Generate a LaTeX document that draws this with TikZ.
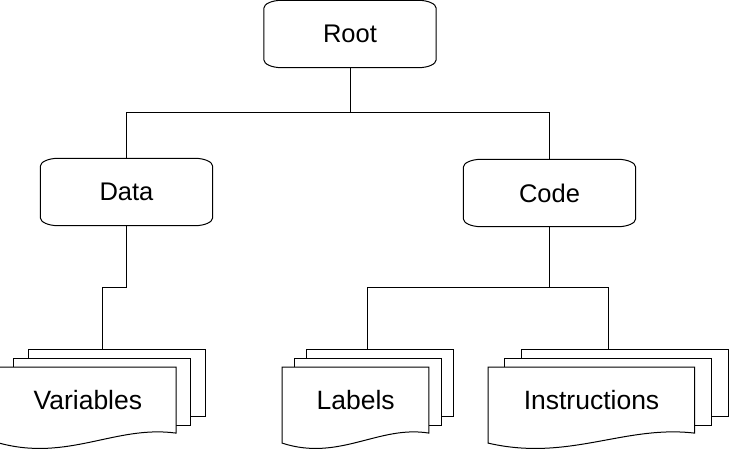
\documentclass[tikz,border=0pt]{standalone}
\usepackage{fontspec}
\setmainfont{Liberation Sans}
\usetikzlibrary{calc}
\tikzset{
  ln/.style={line width=1pt, draw=black, line join=miter},
  termbox/.style={minimum width=172pt, minimum height=67pt, inner sep=0pt, font=\fontsize{25.5}{30}\selectfont},
  docgroup/.style={minimum height=100pt, inner sep=0pt},
  doctext/.style={inner sep=0pt, font=\fontsize{26.5}{30}\selectfont},
  conn/.style={line width=1pt, draw=black}
}
\newcommand{\roundbox}[1]{%
  \draw[ln] ($(#1.north west)+(0,8)$) arc[start angle=180,end angle=270,x radius=18,y radius=8]
    -- ($(#1.north east)+(-18,0)$) arc[start angle=270,end angle=360,x radius=18,y radius=8]
    -- ($(#1.south east)+(0,-8)$) arc[start angle=0,end angle=90,x radius=18,y radius=8]
    -- ($(#1.south west)+(18,0)$) arc[start angle=90,end angle=180,x radius=18,y radius=8]
    -- cycle;}
\newcommand{\mdoc}[4]{%
  \pgfmathsetmacro\dd{0.07*#3}%
  \pgfmathsetmacro\pw{0.86*#3}%
  \node[docgroup, minimum width=#3pt] (#1) at (#2+#3/2, 400) {};
  \filldraw[ln, fill=white] ($(#1.north west)+(2*\dd,0)$) rectangle ($(#1.north east)+(0,66.5)$);
  \filldraw[ln, fill=white] ($(#1.north west)+(\dd,8.7)$) rectangle ($(#1.north east)+(-\dd,75.2)$);
  \filldraw[ln, fill=white] ($(#1.north west)+(0,17.3)$) -- ($(#1.north west)+(\pw,17.3)$)
    -- ($(#1.north west)+(\pw,83.3)$)
    .. controls ($(#1.north west)+(0.66*\pw,75)$) and ($(#1.north west)+(0.39*\pw,112)$) .. ($(#1.north west)+(0,93.3)$)
    -- cycle;
  \node[doctext] (#1-t) at (#2+\pw/2, 400) {#4};
}
\begin{document}
\begin{tikzpicture}[x=1pt, y=-1pt]
  \useasboundingbox (0,0) rectangle (729,451);
  \node[termbox] (root) at (350,34) {Root};
  \node[termbox] (data) at (126.5,192) {Data};
  \node[termbox] (code) at (549.5,193) {Code};
  \roundbox{root}
  \roundbox{data}
  \roundbox{code}
  \mdoc{vars}{-0.5}{205.5}{Variables}
  \mdoc{labels}{282.3}{170.7}{Labels}
  \mdoc{instr}{488.3}{240}{Instructions}
  \draw[conn] (root.south) -- ++(0,45) -| (data.north);
  \draw[conn] (root.south) -- ++(0,45) -| (code.north);
  \draw[conn] (data.south) -- ++(0,62) -| (vars.north);
  \draw[conn] (code.south) -- ++(0,61) -| (labels.north);
  \draw[conn] (code.south) -- ++(0,61) -| (instr.north);
\end{tikzpicture}
\end{document}
